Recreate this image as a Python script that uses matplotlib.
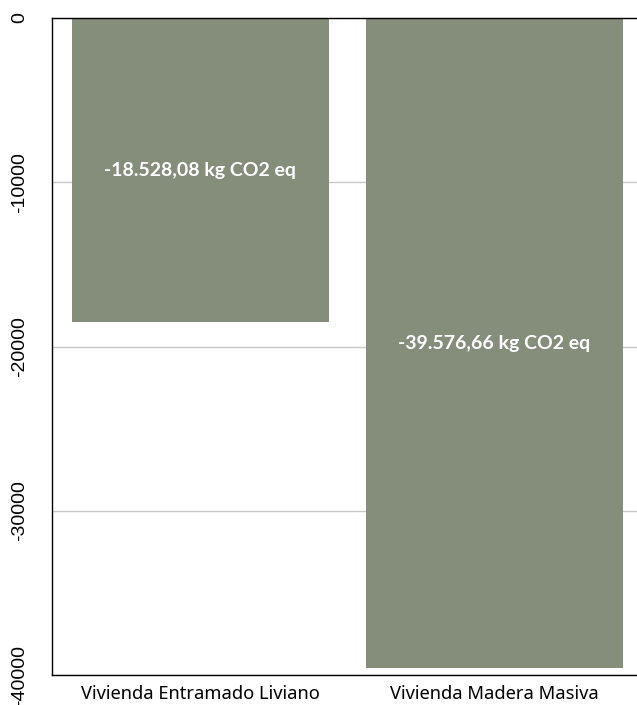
import matplotlib.pyplot as plt

# Data
categories = ['Vivienda Entramado Liviano', 'Vivienda Madera Masiva']
values = [-18528.08, -39576.66]
labels = ['-18.528,08 kg CO2 eq', '-39.576,66 kg CO2 eq']
yticks = [0, -10000, -20000, -30000, -40000]

plt.rcParams['font.family'] = ['Noto Sans', 'DejaVu Sans']

fig = plt.figure(figsize=(6.37, 7.05), dpi=100)
ax = fig.add_axes([52 / 637, 30 / 705, 585 / 637, 657 / 705])

x = range(len(categories))
bars = ax.bar(x, values, width=0.875, color='#858d7b', zorder=2)

# value labels in the middle of each bar
for xi, v, lab in zip(x, values, labels):
    ax.text(xi, v / 2, lab, ha='center', va='center', color='white',
            fontsize=14, fontweight='bold', family='Lato', zorder=3)

ax.set_ylim(-40000, 0)
ax.set_xlim(-0.505, 1.485)
ax.set_yticks(yticks)
ax.set_yticklabels([str(t) for t in yticks], rotation=90, va='center',
                   fontsize=14, family='Liberation Sans')
ax.set_xticks(list(x))
ax.set_xticklabels(categories, fontsize=13.2)
ax.tick_params(axis='x', length=0, pad=7)
ax.tick_params(axis='y', length=0, pad=17)

ax.grid(axis='y', color='#c8c8c8', linewidth=1, zorder=1)
ax.spines['right'].set_visible(False)
for s in ['left', 'top', 'bottom']:
    ax.spines[s].set_color('black')
    ax.spines[s].set_linewidth(1)

fig.savefig('out.png', dpi=100)
